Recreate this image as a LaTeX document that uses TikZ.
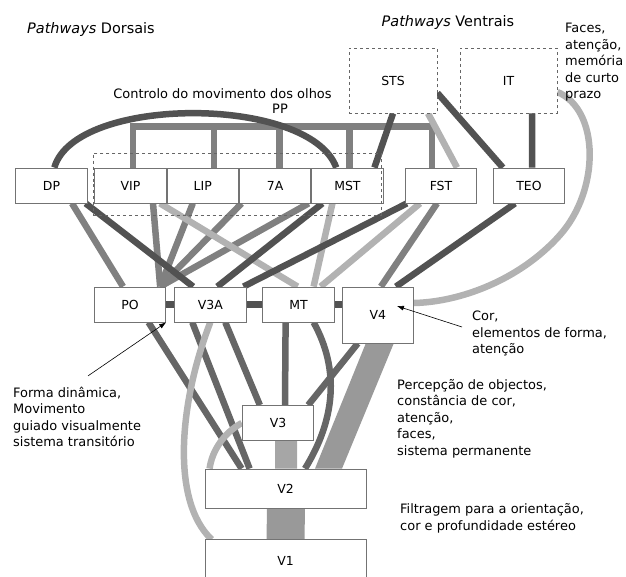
\documentclass[tikz,border=0pt]{standalone}
\usepackage{fontspec}
\setmainfont{DejaVu Sans}
\usetikzlibrary{positioning, arrows.meta, backgrounds}

\tikzset{
  area/.style={draw=black!55, line width=0.8bp, fill=white, minimum width=71.5bp,
    minimum height=35bp, inner sep=0pt, font=\fontsize{12.5}{15}\selectfont},
  zone/.style={draw=black!60, dashed, line width=0.8bp, fill=white, inner sep=0pt,
    font=\fontsize{12.5}{15}\selectfont},
  note/.style={font=\fontsize{13}{16.5}\selectfont, align=left, inner sep=0pt},
  title/.style={font=\fontsize{14.5}{17}\selectfont, inner sep=0pt},
  darkpath/.style={draw=black!68, line width=6.5bp},
  lowpath/.style={draw=black!60, line width=6.5bp},
  midpath/.style={draw=black!50, line width=6.5bp},
  palepath/.style={draw=black!30, line width=6.5bp},
  bandfill/.style={fill=black!40},
  pointer/.style={-{Latex[length=7bp,width=5bp]}, line width=0.6bp}
}

\begin{document}
\begin{tikzpicture}[x=1bp, y=-1bp]
  \useasboundingbox (0,0) rectangle (626,577);

  % dorsal row
  \node[area] (DP) at (51.5,185.5) {DP};
  \node[area] (VIP) at (130.5,185.5) {VIP};
  \node[area, right=0pt of VIP] (LIP) {LIP};
  \node[area, right=0pt of LIP] (A7) {7A};
  \node[area, right=0pt of A7] (MST) {MST};
  \node[area] (FST) at (441,185.5) {FST};
  \node[area] (TEO) at (529,185.5) {TEO};
  \node[draw=black!60, dashed, line width=0.8bp, minimum width=288bp,
    minimum height=62bp] (PPbox) at (237,184) {};

  % ventral areas
  \node[zone, minimum width=88bp, minimum height=65bp] (STS) at (393,80.5) {STS};
  \node[zone, minimum width=97bp, minimum height=65bp] (IT) at (508.5,80.5) {IT};

  % middle row
  \node[area] (PO) at (130,304.5) {PO};
  \node[area, right=8bp of PO] (V3A) {V3A};
  \node[area, right=16bp of V3A] (MT) {MT};
  \node[area, minimum height=56bp, below right=0pt and 7bp of MT.north east] (V4) {V4};

  % early areas
  \node[area] (V3) at (278,423) {V3};
  \node[area, minimum width=161bp, minimum height=39bp] (V2) at (285.5,488.5) {V2};
  \node[area, minimum width=161bp, minimum height=42bp, below=31bp of V2] (V1) {V1};

  % labels
  \node[title, anchor=west] (dorsal) at (27,30) {\textit{Pathways} Dorsais};
  \node[title] (ventral) at (448,23) {\textit{Pathways} Ventrais};
  \node[note, anchor=west] (faces) at (565,62.5) {Faces,\\atenção,\\memória\\de curto\\prazo};
  \node[note] (eyes) at (222.5,94) {Controlo do movimento dos olhos};
  \node[note] (pp) at (280,109) {PP};
  \node[note, anchor=west] (cor) at (472,333.5) {Cor,\\elementos de forma,\\atenção};
  \node[note, anchor=west] (forma) at (13,417) {Forma dinâmica,\\Movimento\\guiado visualmente\\sistema transitório};
  \node[note, anchor=west] (percep) at (397,418.5) {Percepção de objectos,\\constância de cor,\\atenção,\\faces,\\sistema permanente};
  \node[note, anchor=west] (filtro) at (400,518.5) {Filtragem para a orientação,\\cor e profundidade estéreo};

  \draw[pointer] ([xshift=-10bp,yshift=6.5bp]cor.west) -- ([xshift=19bp,yshift=9bp]V4.center);
  \draw[pointer] ([xshift=75bp,yshift=11bp]forma.north west) -- (PO.south east);

  \begin{scope}[on background layer]
    % PP bus
    \draw[midpath] ([xshift=2.5bp]VIP.north) -- ++(0,-41) -| ([xshift=-9bp]FST.north);
    \foreach \n/\dx in {LIP/11, A7/4.5, MST/2}
      \draw[midpath] ([xshift=\dx bp]\n.north) -- ++(0,-41);
    \draw[darkpath] ([xshift=39bp]DP.north west) .. controls (75,95) and (310,95) .. ([xshift=25bp]MST.north west);
    % ventral links
    \draw[palepath] ([xshift=35bp]STS.south) -- ([xshift=16bp]FST.north);
    \draw[darkpath] (STS.south) -- ([xshift=27bp]MST.north);
    \draw[darkpath] ([yshift=-12.5bp]STS.east) -- ([xshift=10bp]TEO.north west);
    \draw[darkpath] ([xshift=23.5bp]IT.south) -- ([xshift=3bp]TEO.north);
    \draw[palepath] ([yshift=-11.5bp]IT.east) .. controls (600,110) and (600,190) .. (560,235)
      .. controls (520,280) and (460,302) .. ([yshift=12bp]V4.east);
    % dorsal row to middle row
    \draw[midpath] ([xshift=20.5bp]DP.south) -- ([xshift=-7bp]PO.north);
    \foreach \n/\dx in {VIP/22.5, LIP/-10, A7/-33.5, A7/33.5}
      \draw[midpath] ([xshift=\dx bp]\n.south) -- ([xshift=-6bp]PO.north east);
    \draw[midpath] ([xshift=-4bp]FST.south) -- ([xshift=3bp]V4.north);
    \draw[palepath] ([xshift=29.5bp]VIP.south) -- ([xshift=-1bp]MT.north);
    \draw[palepath] ([xshift=-15bp]MST.south) -- ([xshift=15bp]MT.north);
    \draw[palepath] ([xshift=-21bp]FST.south) -- ([xshift=22bp]MT.north);
    \draw[darkpath] ([xshift=-2bp]DP.south east) -- ([xshift=19bp]V3A.north west);
    \draw[darkpath] ([xshift=-25bp]MST.south) -- ([xshift=7bp]V3A.north);
    \draw[darkpath] ([xshift=2bp]FST.south west) -- ([xshift=-3bp]V3A.north east);
    \draw[darkpath] ([xshift=-14bp]TEO.south) -- ([xshift=18bp]V4.north);
    % middle row bars
    \draw[darkpath] (PO.east) -- (V3A.west);
    \draw[darkpath] (V3A.east) -- (MT.west);
    \draw[darkpath, line width=7bp] (MT.east) -- (MT.east -| V4.west);
    % down to V3, V2, V1
    \fill[bandfill] ([xshift=24bp]V4.south west) -- ([xshift=52bp]V4.south west)
      -- ([xshift=56.5bp]V2.north) -- ([xshift=29.5bp]V2.north) -- cycle;
    \draw[lowpath] ([xshift=18.5bp]PO.south) -- ([xshift=37bp]V2.north west);
    \draw[lowpath] ([xshift=-18bp]V3A.south) -- ([xshift=45bp]V2.north west);
    \draw[lowpath] ([xshift=15bp]V3A.south) -- ([xshift=18bp]V3.north west);
    \draw[lowpath] ([xshift=-13bp]MT.south) -- ([xshift=7bp]V3.north);
    \draw[lowpath] ([xshift=15bp]MT.south) .. controls (340,370) and (335,420) .. ([xshift=19.5bp]V2.north);
    \draw[lowpath] ([xshift=16bp]V4.south west) -- ([xshift=-6bp]V3.north east);
    \draw[palepath] (V3A.south) .. controls (180,400) and (170,500) .. ([xshift=7bp]V1.north west);
    \draw[palepath] (V3.west) .. controls (225,432) and (212,450) .. ([xshift=5bp]V2.north west);
    \draw[draw=black!35, line width=22bp] ([xshift=8bp]V3.south) -- ([xshift=0.5bp]V2.north);
    \draw[draw=black!40, line width=38bp] ([xshift=0.5bp]V2.south) -- (V1.north);
  \end{scope}
\end{tikzpicture}
\end{document}
